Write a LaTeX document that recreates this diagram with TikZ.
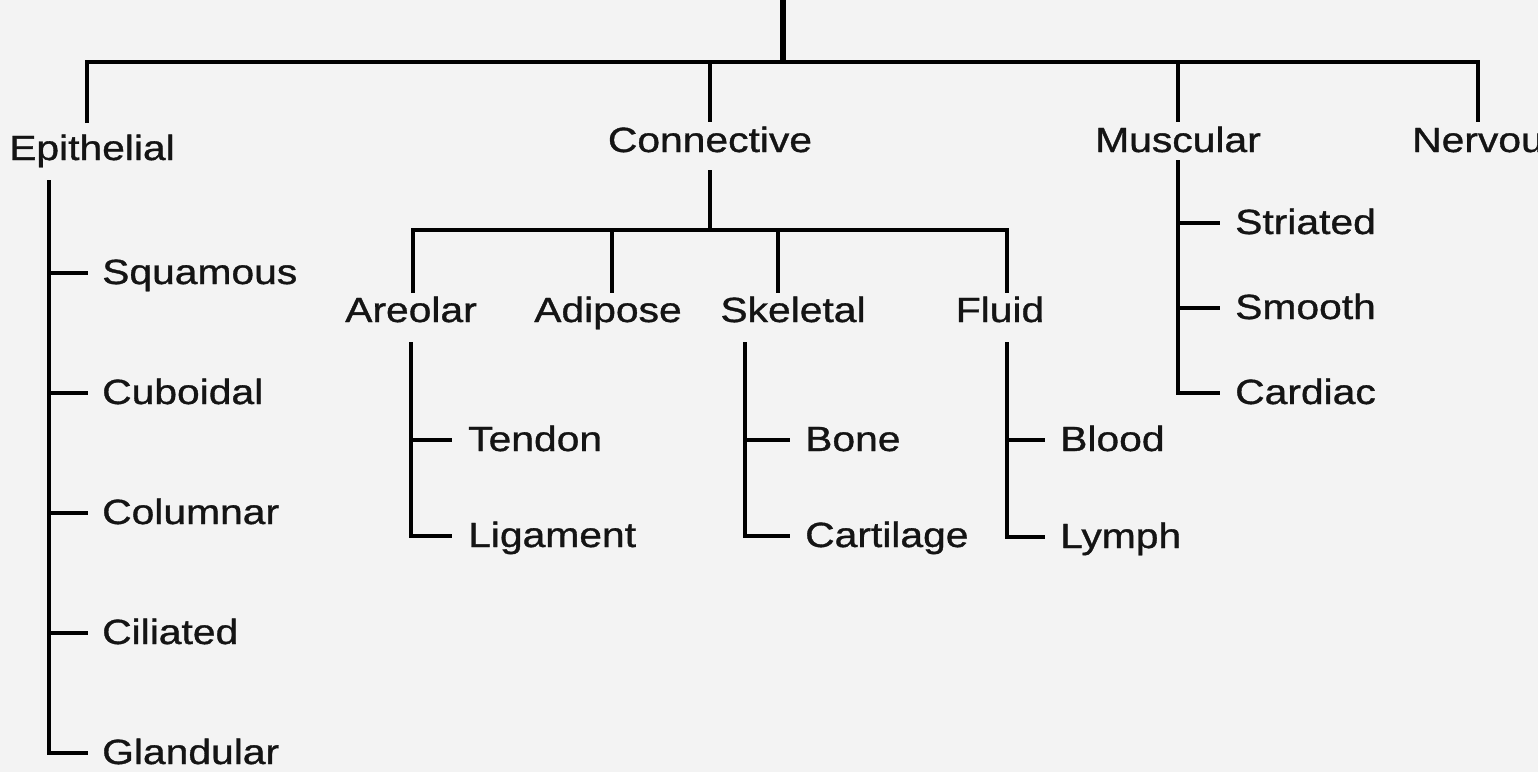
\documentclass[tikz,border=0pt]{standalone}
\usepackage{fontspec}
\setmainfont{Liberation Sans}[FakeStretch=1.166,FakeBold=1]
\usetikzlibrary{calc}
\definecolor{bg}{RGB}{243,243,243}
\definecolor{ink}{RGB}{20,20,20}
\begin{document}
\begin{tikzpicture}[x=1pt,y=-1pt,
  lab/.style={inner sep=0pt,text height=25pt,text depth=0pt,text=ink,
    font=\fontsize{35}{40}\selectfont},
  kid/.style={inner sep=0pt,text height=22pt,text depth=0pt,text=ink,anchor=west,
    font=\fontsize{35}{40}\selectfont},
  ln/.style={line width=4pt,black,line join=miter,line cap=butt},
  tick/.style={line width=3.5pt,black,line cap=butt},
]
\fill[bg] (0,0) rectangle (1538,772);
\useasboundingbox (0,0) rectangle (1538,772);
\begin{scope}
\clip (0,0) rectangle (1538,772);
% headers
\node[lab,anchor=base] (epi) at (92,160) {Epithelial};
\node[lab,anchor=base] (con) at (710,152) {Connective};
\node[lab,anchor=base] (mus) at (1178,152) {Muscular};
\node[lab,anchor=base west] (ner) at (1412,152) {Nervous};
% top structure
\coordinate (rootTop) at (783,0);
\coordinate (rootBot) at (783,62);
\coordinate (barL) at (87,62);
\coordinate (barR) at (1478,62);
\coordinate (epiTop) at (87,123);
\coordinate (nerTop) at (1478,122);
\draw[ln] (epiTop) -- (barL) -- (barR) -- (nerTop);
\draw[line width=6pt,black] (rootTop) -- (rootBot);
\draw[ln,shorten >=5pt] (con.north |- barL) -- (con.north);
\draw[ln,shorten >=5pt] (mus.north |- barL) -- (mus.north);
% connective sub-tree
\node[lab,anchor=base] (are) at (411,322) {Areolar};
\node[lab,anchor=base] (adi) at (608,322) {Adipose};
\node[lab,anchor=base] (ske) at (793,322) {Skeletal};
\node[lab,anchor=base] (flu) at (1000,322) {Fluid};
\coordinate (cbar) at (710,230);
\coordinate (areTop) at (413,293);
\coordinate (adiTop) at (612,293);
\coordinate (skeTop) at (778,293);
\coordinate (fluTop) at (1007,293);
\draw[ln,shorten <=18pt] (con.south) -- (cbar);
\draw[ln] (areTop) |- (cbar) -| (fluTop);
\draw[ln] (adiTop |- cbar) -- (adiTop);
\draw[ln] (skeTop |- cbar) -- (skeTop);
% epithelial children
\coordinate (epiV) at (49,180);
\node[kid] (squ) at (102,273) {Squamous};
\node[kid] (cub) at (102,393) {Cuboidal};
\node[kid] (col) at (102,513) {Columnar};
\node[kid] (cil) at (102,633) {Ciliated};
\node[kid] (gla) at (102,753) {Glandular};
\draw[ln,shorten >=14pt] (epiV) |- (gla.west);
\foreach \n in {squ,cub,col,cil}
  \draw[tick,shorten >=14pt] (epiV |- \n.west) -- (\n.west);
% areolar children
\coordinate (areV) at (411,342);
\node[kid] (ten) at (468,440) {Tendon};
\node[kid] (lig) at (468,536) {Ligament};
\draw[ln,shorten >=16pt] (areV) |- (lig.west);
\draw[tick,shorten >=16pt] (areV |- ten.west) -- (ten.west);
% skeletal children
\coordinate (skeV) at (745,342);
\node[kid] (bon) at (805,440) {Bone};
\node[kid] (car) at (805,536) {Cartilage};
\draw[ln,shorten >=15pt] (skeV) |- (car.west);
\draw[tick,shorten >=15pt] (skeV |- bon.west) -- (bon.west);
% fluid children
\coordinate (fluV) at (1007,342);
\node[kid] (blo) at (1060,440) {Blood};
\node[kid] (lym) at (1060,537) {Lymph};
\draw[ln,shorten >=15pt] (fluV) |- (lym.west);
\draw[tick,shorten >=15pt] (fluV |- blo.west) -- (blo.west);
% muscular children
\coordinate (musV) at (1178,160);
\node[kid] (str) at (1235,223) {Striated};
\node[kid] (smo) at (1235,308) {Smooth};
\node[kid] (cdc) at (1235,393) {Cardiac};
\draw[ln,shorten >=15pt] (musV) |- (cdc.west);
\draw[tick,shorten >=15pt] (musV |- str.west) -- (str.west);
\draw[tick,shorten >=15pt] (musV |- smo.west) -- (smo.west);
\end{scope}
\end{tikzpicture}
\end{document}
